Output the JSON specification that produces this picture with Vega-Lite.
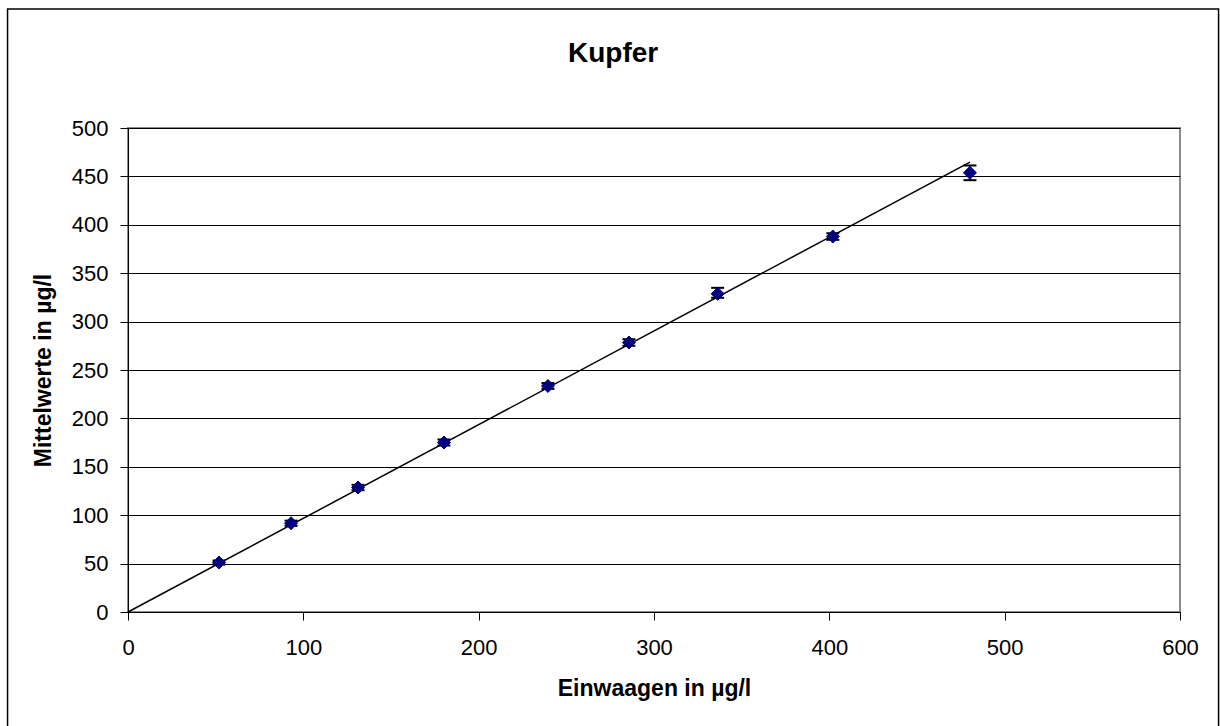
{
  "$schema": "https://vega.github.io/schema/vega-lite/v6.json",
  "width": 1052,
  "height": 484,
  "autosize": "none",
  "padding": {"left": 128, "top": 128, "right": 40, "bottom": 114},
  "background": "white",
  "config": {
    "font": "Liberation Sans",
    "view": {"stroke": "#8c8c8c", "strokeWidth": 2},
    "axis": {
      "domainColor": "black",
      "domainWidth": 1,
      "tickColor": "black",
      "tickWidth": 1,
      "tickSize": 8,
      "labelColor": "black",
      "labelFont": "Liberation Sans",
      "labelFontSize": 22,
      "labelFlush": false,
      "labelOverlap": false,
      "titleColor": "black",
      "titleFont": "Liberation Sans",
      "titleFontSize": 23,
      "titleFontWeight": "bold"
    }
  },
  "title": {
    "text": "Kupfer",
    "font": "Liberation Sans",
    "fontSize": 28,
    "fontWeight": "bold",
    "color": "black",
    "anchor": "middle",
    "frame": "bounds",
    "offset": -60
  },
  "datasets": {
    "points": [
      {"einwaage": 51.9, "mittel": 51.1, "lo": 49.0, "hi": 53.2},
      {"einwaage": 93.0, "mittel": 91.7, "lo": 89.0, "hi": 94.4},
      {"einwaage": 131.2, "mittel": 128.6, "lo": 125.8, "hi": 131.4},
      {"einwaage": 180.2, "mittel": 175.1, "lo": 172.0, "hi": 178.2},
      {"einwaage": 239.5, "mittel": 233.5, "lo": 230.5, "hi": 236.5},
      {"einwaage": 285.7, "mittel": 278.4, "lo": 275.0, "hi": 281.8},
      {"einwaage": 336.3, "mittel": 328.7, "lo": 324.6, "hi": 334.9},
      {"einwaage": 402.0, "mittel": 387.9, "lo": 384.5, "hi": 391.3},
      {"einwaage": 480.2, "mittel": 453.7, "lo": 446.1, "hi": 461.3}
    ],
    "trend": [
      {"einwaage": 0, "mittel": 0},
      {"einwaage": 480.2, "mittel": 464.7}
    ]
  },
  "layer": [
    {
      "data": {"values": [{"frame": 1}]},
      "mark": {"type": "rect", "fill": null, "fillOpacity": 0, "stroke": "black", "strokeWidth": 1.5, "clip": false},
      "encoding": {
        "x": {"datum": -68.7, "type": "quantitative", "scale": {"domain": [0, 600], "nice": false}},
        "x2": {"datum": 622.0},
        "y": {"datum": 622.9, "type": "quantitative", "scale": {"domain": [0, 500], "nice": false}},
        "y2": {"datum": -125.0}
      }
    },
    {
      "data": {"name": "trend"},
      "mark": {"type": "line", "color": "black", "strokeWidth": 1.5},
      "encoding": {
        "x": {"field": "einwaage", "type": "quantitative"},
        "y": {"field": "mittel", "type": "quantitative"}
      }
    },
    {
      "data": {"name": "points"},
      "mark": {"type": "rule", "color": "black", "strokeWidth": 1.5},
      "encoding": {
        "x": {"field": "einwaage", "type": "quantitative"},
        "y": {"field": "lo", "type": "quantitative"},
        "y2": {"field": "hi"}
      }
    },
    {
      "data": {"name": "points"},
      "mark": {"type": "tick", "color": "black", "opacity": 1, "thickness": 2, "size": 13, "orient": "horizontal"},
      "encoding": {
        "x": {"field": "einwaage", "type": "quantitative"},
        "y": {"field": "lo", "type": "quantitative"}
      }
    },
    {
      "data": {"name": "points"},
      "mark": {"type": "tick", "color": "black", "opacity": 1, "thickness": 2, "size": 13, "orient": "horizontal"},
      "encoding": {
        "x": {"field": "einwaage", "type": "quantitative"},
        "y": {"field": "hi", "type": "quantitative"}
      }
    },
    {
      "data": {"name": "points"},
      "mark": {"type": "point", "shape": "diamond", "filled": true, "size": 170, "color": "#000080", "opacity": 1, "stroke": "#000080", "strokeWidth": 1},
      "encoding": {
        "x": {
          "field": "einwaage",
          "type": "quantitative",
          "scale": {"domain": [0, 600], "nice": false},
          "axis": {
            "title": "Einwaagen in µg/l",
            "values": [0, 100, 200, 300, 400, 500, 600],
            "grid": false,
            "labelPadding": 17,
            "titlePadding": 19
          }
        },
        "y": {
          "field": "mittel",
          "type": "quantitative",
          "scale": {"domain": [0, 500], "nice": false},
          "axis": {
            "title": "Mittelwerte in µg/l",
            "values": [0, 50, 100, 150, 200, 250, 300, 350, 400, 450, 500],
            "grid": true,
            "gridColor": "black",
            "gridWidth": 1,
            "gridOpacity": 1,
            "labelPadding": 12,
            "titlePadding": 16
          }
        }
      }
    }
  ]
}
